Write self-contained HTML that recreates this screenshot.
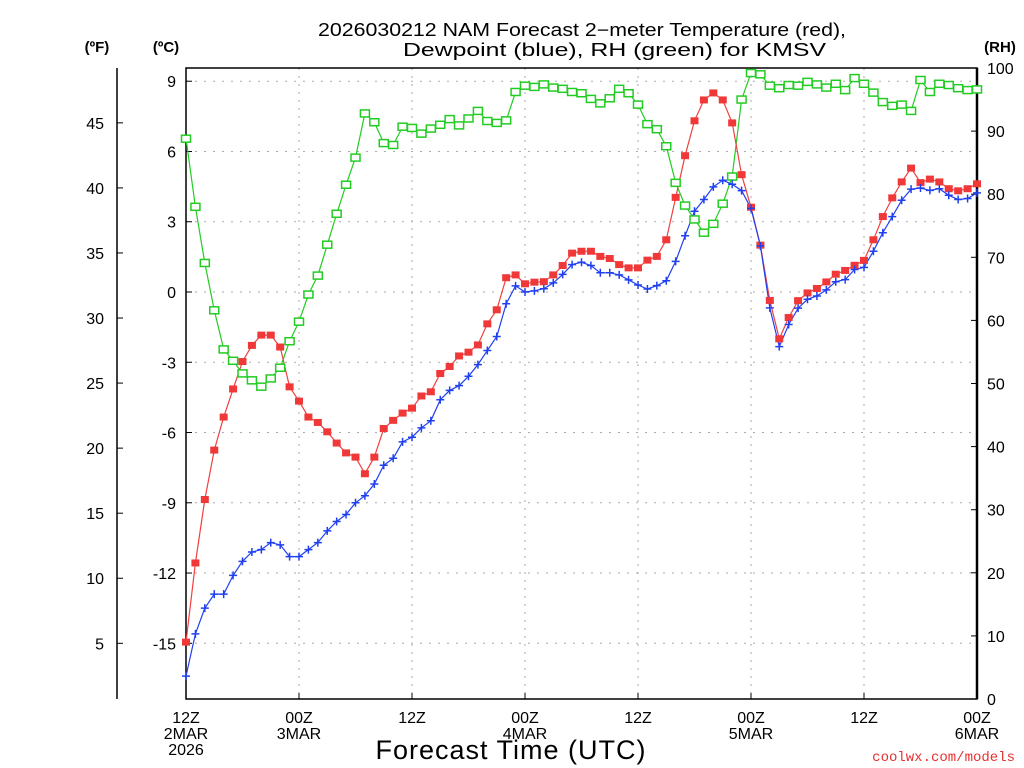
<!DOCTYPE html>
<html><head><meta charset="utf-8"><style>
html,body{margin:0;padding:0;background:#fff;}
svg{display:block;font-family:"Liberation Sans",sans-serif;}
</style></head><body>
<svg id="chart" width="1024" height="768" viewBox="0 0 1024 768">
<g id="grid"></g>
<g id="axes"></g>
<g id="series"></g>
<text x="318" y="36" font-size="18" textLength="528" lengthAdjust="spacingAndGlyphs">2026030212 NAM Forecast 2−meter Temperature (red),</text>
<text x="403" y="56" font-size="18" textLength="423" lengthAdjust="spacingAndGlyphs">Dewpoint (blue), RH (green) for KMSV</text>
<text x="97" y="52" text-anchor="middle" font-size="15" font-weight="bold">(ºF)</text>
<text x="166" y="52" text-anchor="middle" font-size="15" font-weight="bold">(ºC)</text>
<text x="1000" y="52" text-anchor="middle" font-size="15" font-weight="bold">(RH)</text>
<text x="511" y="759" text-anchor="middle" font-size="27" letter-spacing="1">Forecast Time (UTC)</text>
<text x="1015" y="761" text-anchor="end" font-size="14" fill="#e83030" font-family="Liberation Mono, monospace">coolwx.com/models</text>
</svg>
<script>
const tempC = [-14.95,-11.57,-8.86,-6.75,-5.34,-4.14,-2.97,-2.28,-1.84,-1.84,-2.35,-4.05,-4.66,-5.34,-5.57,-5.97,-6.45,-6.87,-7.05,-7.76,-7.05,-5.83,-5.48,-5.17,-4.96,-4.44,-4.26,-3.48,-3.18,-2.73,-2.57,-2.26,-1.36,-0.76,0.61,0.73,0.35,0.42,0.44,0.73,1.13,1.66,1.74,1.74,1.52,1.43,1.17,1.03,1.03,1.36,1.52,2.23,4.04,5.82,7.31,8.20,8.50,8.20,7.22,5.01,3.62,2.00,-0.36,-2.0,-1.09,-0.37,-0.04,0.15,0.43,0.76,0.92,1.14,1.35,2.23,3.22,4.02,4.70,5.29,4.67,4.82,4.70,4.41,4.32,4.41,4.62];
const dewC = [-16.4,-14.6,-13.5,-12.9,-12.9,-12.1,-11.5,-11.1,-11.0,-10.7,-10.8,-11.3,-11.3,-11.0,-10.7,-10.2,-9.8,-9.5,-9.0,-8.7,-8.2,-7.4,-7.1,-6.4,-6.2,-5.8,-5.5,-4.6,-4.2,-4.0,-3.6,-3.1,-2.5,-1.9,-0.5,0.26,0.0,0.05,0.14,0.39,0.75,1.17,1.27,1.13,0.82,0.82,0.73,0.52,0.30,0.13,0.27,0.48,1.31,2.40,3.45,3.95,4.49,4.77,4.60,4.33,3.57,1.97,-0.68,-2.33,-1.39,-0.69,-0.31,-0.17,0.09,0.44,0.53,0.96,1.05,1.74,2.53,3.22,3.92,4.39,4.44,4.34,4.41,4.13,3.95,3.99,4.23];
const rh = [88.8,78.0,69.1,61.6,55.4,53.6,51.6,50.5,49.5,50.8,52.5,56.7,59.8,64.1,67.1,72.0,76.9,81.5,85.8,92.8,91.4,88.1,87.8,90.7,90.5,89.6,90.4,91.0,91.9,90.9,92.0,93.2,91.6,91.3,91.7,96.2,97.2,97.0,97.4,96.9,96.7,96.2,96.0,95.1,94.4,95.2,96.7,96.0,94.2,91.1,90.3,87.6,81.8,78.2,76.0,73.9,75.3,78.5,82.8,95.0,99.2,99.0,97.2,96.8,97.3,97.2,97.8,97.4,96.9,97.5,96.5,98.4,97.5,96.1,94.6,94.0,94.2,93.2,98.1,96.2,97.5,97.3,96.8,96.5,96.6];
const cTicks = [9,6,3,0,-3,-6,-9,-12,-15];
const fTicks = [45,40,35,30,25,20,15,10,5];
const rhTicks = [100,90,80,70,60,50,40,30,20,10,0];
const xTickHours = [0,12,24,36,48,60,72,84];
const xTickLabels = [["12Z","2MAR","2026"],["00Z","3MAR"],["12Z"],["00Z","4MAR"],["12Z"],["00Z","5MAR"],["12Z"],["00Z","6MAR"]];

const NS="http://www.w3.org/2000/svg";
const L=186,R=977,T=68,B=699;
const xS=h=>L+(R-L)*h/84;
const yC=c=>292-c*23.42;
const yF=f=>yC((f-32)*5/9);
const yR=r=>B-(B-T)*r/100;
function mk(tag,attrs,parent){const e=document.createElementNS(NS,tag);for(const k in attrs)e.setAttribute(k,attrs[k]);parent.appendChild(e);return e;}
const grid=document.getElementById('grid'),axes=document.getElementById('axes'),ser=document.getElementById('series');

cTicks.forEach(c=>{
  const y=yC(c);
  const g=mk('line',{x1:L,x2:R,y1:y,y2:y,stroke:'#aaa','stroke-dasharray':'2 7'},grid);
  
  
  mk('line',{x1:L,x2:L+6,y1:y,y2:y,stroke:'#000'},axes);
  const t=mk('text',{x:176,y:y+6,'text-anchor':'end','font-size':16},axes);
  t.textContent=c;
  
  
});
fTicks.forEach(f=>{
  const y=yF(f);
  mk('line',{x1:117,x2:123,y1:y,y2:y,stroke:'#000'},axes);
  const t=mk('text',{x:104,y:y+6,'text-anchor':'end','font-size':16},axes);
  t.textContent=f;
  
  
});
rhTicks.forEach(r=>{
  const y=yR(r);
  mk('line',{x1:R-6,x2:R,y1:y,y2:y,stroke:'#000'},axes);
  const t=mk('text',{x:987,y:y+6,'font-size':16},axes);
  t.textContent=r;
  
  
});
xTickHours.forEach((h,i)=>{
  const x=xS(h);
  if(h>0&&h<84){const g=mk('line',{x1:x,x2:x,y1:T,y2:B,stroke:'#aaa','stroke-dasharray':'2 6'},grid);
  
  }
  mk('line',{x1:x,x2:x,y1:B-6,y2:B,stroke:'#000'},axes);
  xTickLabels[i].forEach((s,j)=>{
    const t=mk('text',{x:x,y:723+j*16,'text-anchor':'middle','font-size':16},axes);
    t.textContent=s;
    
    
  });
});
const fr=mk('rect',{x:L,y:T,width:R-L,height:B-T,fill:'none',stroke:'#000','stroke-width':1.5},axes);


mk('line',{x1:R,x2:R,y1:T,y2:B,stroke:'#000','stroke-width':2.5},axes);
const fax=mk('line',{x1:117,x2:117,y1:T,y2:B,stroke:'#000','stroke-width':1.5},axes);



function line(arr,yf,color,name){
  const p=arr.map((v,i)=>xS(i).toFixed(1)+','+yf(v).toFixed(1)).join(' ');
  const pl=mk('polyline',{points:p,fill:'none',stroke:color,'stroke-width':1.2},ser);
  
  
}
line(rh,yR,'#22cc22','rh-line');
line(tempC,yC,'#f04040','temperature-line');
line(dewC,yC,'#2040f0','dewpoint-line');
rh.forEach((v,i)=>{
  const m=mk('rect',{x:xS(i)-4.5,y:yR(v)-3.5,width:9,height:7,fill:'#fff',stroke:'#22cc22','stroke-width':1.5},ser);
  
  
});
tempC.forEach((v,i)=>{
  const m=mk('rect',{x:xS(i)-4,y:yC(v)-3.5,width:8,height:7,fill:'#f03838'},ser);
  
  
});
dewC.forEach((v,i)=>{
  const x=xS(i),y=yC(v);
  const m=mk('path',{d:`M${x-4},${y}H${x+4}M${x},${y-4}V${y+4}`,stroke:'#2040f0','stroke-width':1.5},ser);
  
  
});
</script>
</body></html>
